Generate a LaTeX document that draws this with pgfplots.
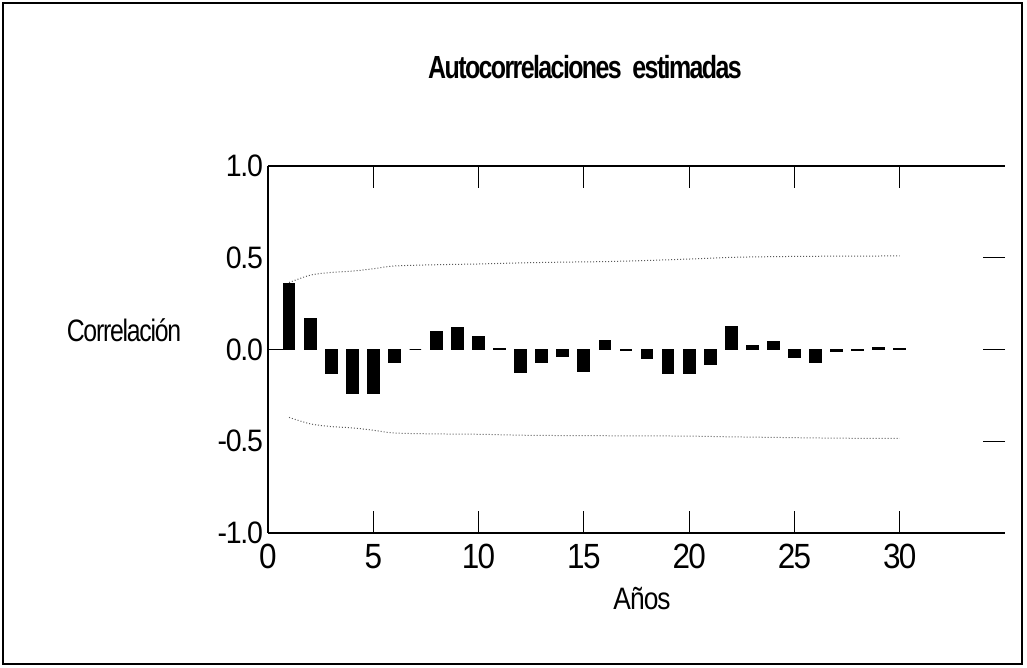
\documentclass[border=0pt]{standalone}
\usepackage{fontspec}
\setmainfont{Liberation Sans}[FakeStretch=0.85, LetterSpace=-4]
\newfontfamily\titlefont{Liberation Sans}[FakeStretch=0.78, LetterSpace=-5]
\newfontfamily\ytfont{Liberation Sans}[FakeStretch=0.92, LetterSpace=-4]
\newfontfamily\xtfont{Liberation Sans}[FakeStretch=0.9, LetterSpace=-5]
\newfontfamily\ylfont{Liberation Sans}[FakeStretch=0.8, LetterSpace=-4]
\newfontfamily\xlfont{Liberation Sans}[FakeStretch=0.85, LetterSpace=-3]
\usepackage{pgfplots}
\pgfplotsset{compat=1.18}
\begin{document}
\begin{tikzpicture}
\path[use as bounding box] (-134pt,-67.5pt) rectangle (379.5pt,266.5pt);
\draw[line width=0.8pt] (-132.5pt,-65.5pt) rectangle (377pt,265pt);
\begin{axis}[
  scale only axis, width=368.5pt, height=183.5pt,
  at={(0,0)}, anchor=south west,
  xmin=0, xmax=35, ymin=-1, ymax=1,
  xtick={0,5,10,15,20,25,30}, ytick={-1,-0.5,0,0.5,1},
  xtick pos=both, ytick pos=right, yticklabel pos=left,
  tick align=inside, major tick length=11pt,
  tick style={black, line width=0.5pt},
  axis line style={draw=none},
  /pgf/number format/assume math mode=true,
  /pgf/number format/.cd, fixed, fixed zerofill, precision=1, /pgfplots/.cd,
  xticklabel={\pgfmathprintnumber[fixed, precision=0]{\tick}},
  yticklabel style={font=\ytfont\fontsize{15.5}{16}\selectfont, xshift=1pt},
  xticklabel style={font=\xtfont\fontsize{17.5}{18}\selectfont, yshift=-2pt},
  clip=false,
]
\draw[line width=0.6pt] (rel axis cs:0,0) -- (rel axis cs:1,0);
\draw[line width=0.6pt] (rel axis cs:0,1) -- (rel axis cs:1,1);
\draw[line width=0.6pt] (rel axis cs:0,0) -- (rel axis cs:0,1);
\addplot[ybar, bar width=5.8pt, fill=black, draw=black, line width=0.6pt] coordinates {
(1,0.36)(2,0.17)(3,-0.13)(4,-0.24)(5,-0.24)(6,-0.07)(7,0.0)(8,0.10)(9,0.12)(10,0.07)
(11,0.005)(12,-0.125)(13,-0.07)(14,-0.04)(15,-0.12)(16,0.05)(17,-0.005)(18,-0.05)(19,-0.13)(20,-0.13)
(21,-0.08)(22,0.125)(23,0.02)(24,0.045)(25,-0.045)(26,-0.07)(27,-0.01)(28,-0.005)(29,0.01)(30,0.005)
};
\addplot[black, line width=0.6pt] coordinates {(0,0)(0.72,0)};
\addplot[black!65, line width=0.5pt, densely dotted, smooth] coordinates {
(1,0.365)(2,0.405)(3,0.42)(4,0.427)(5,0.44)(6,0.455)(8,0.462)(10,0.466)(12,0.472)(14,0.476)
(16,0.479)(18,0.485)(20,0.493)(22,0.502)(24,0.506)(26,0.508)(28,0.509)(30,0.51)
};
\addplot[black!65, line width=0.5pt, densely dotted, smooth] coordinates {
(1,-0.37)(2,-0.405)(3,-0.42)(4,-0.427)(5,-0.44)(6,-0.455)(8,-0.46)(10,-0.462)(12,-0.467)(14,-0.469)
(16,-0.47)(18,-0.471)(20,-0.472)(22,-0.476)(24,-0.479)(26,-0.482)(28,-0.484)(30,-0.485)
};
\end{axis}
\node[font=\titlefont\fontsize{16}{17}\selectfont\bfseries] at (158.5pt,233pt) {Autocorrelaciones\ \ estimadas};
\node[font=\ylfont\fontsize{15.5}{16}\selectfont] at (-72pt,101.5pt) {Correlación};
\node[font=\xlfont\fontsize{15.5}{16}\selectfont] at (187pt,-33pt) {Años};
\end{tikzpicture}
\end{document}
